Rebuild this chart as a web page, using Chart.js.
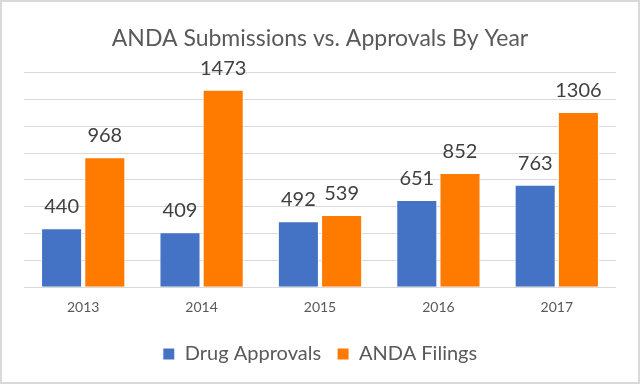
<!DOCTYPE html>
<html>
<head>
<meta charset="utf-8">
<script src="https://cdn.jsdelivr.net/npm/chart.js@4"></script>
<style>
  html, body { margin: 0; padding: 0; background: #fff; }
  #wrap { position: relative; width: 640px; height: 384px; box-sizing: border-box; border: 2px solid #d9d9d9; }
  canvas { display: block; }
</style>
</head>
<body>
<div id="wrap"><canvas id="c" width="636" height="380"></canvas></div>
<script>
const categories = ["2013", "2014", "2015", "2016", "2017"];
const drugApprovals = [440, 409, 492, 651, 763];
const andaFilings = [968, 1473, 539, 852, 1306];
const seriesNames = ["Drug Approvals", "ANDA Filings"];
const titleText = "ANDA Submissions vs. Approvals By Year";

const FONT = "Lato, 'Open Sans', sans-serif";

const valueLabels = {
  id: 'valueLabels',
  afterDatasetsDraw(chart) {
    const ctx = chart.ctx;
    ctx.save();
    ctx.font = "20px " + FONT;
    ctx.fillStyle = "#404040";
    ctx.textAlign = "center";
    ctx.textBaseline = "alphabetic";
    chart.data.datasets.forEach((ds, i) => {
      const meta = chart.getDatasetMeta(i);
      meta.data.forEach((el, j) => {
        ctx.fillText(String(ds.data[j]), el.x, el.y - 15);
      });
    });
    ctx.restore();
  }
};

new Chart(document.getElementById('c'), {
  type: 'bar',
  data: {
    labels: categories,
    datasets: [
      { label: seriesNames[0], data: drugApprovals, backgroundColor: '#4472C4', borderColor: '#ffffff', borderWidth: 1,
        categoryPercentage: 0.73, barPercentage: 0.95 },
      { label: seriesNames[1], data: andaFilings, backgroundColor: '#FF7B00', borderColor: '#ffffff', borderWidth: 1,
        categoryPercentage: 0.73, barPercentage: 0.95 }
    ]
  },
  options: {
    responsive: false,
    animation: false,
    devicePixelRatio: 1,
    layout: { padding: { left: 22, right: 22, top: 0, bottom: 8 } },
    plugins: {
      title: {
        display: true, text: titleText, color: '#595959',
        font: { family: FONT, size: 23, weight: 'normal' },
        padding: { top: 23, bottom: 20 }
      },
      legend: {
        position: 'bottom',
        labels: {
          color: '#595959', font: { family: FONT, size: 20 },
          boxWidth: 12, boxHeight: 12, padding: 16, useBorderRadius: false
        }
      },
      tooltip: { enabled: false }
    },
    scales: {
      x: {
        grid: { display: false },
        border: { display: false },
        ticks: { color: '#595959', font: { family: FONT, size: 14 }, padding: 4 },
        afterFit(scale) { scale.height += 8; }
      },
      y: {
        min: 0, max: 1600,
        ticks: { display: false, stepSize: 200 },
        grid: { color: '#d9d9d9', lineWidth: 1, drawTicks: false },
        border: { display: false }
      }
    }
  },
  plugins: [valueLabels]
});
</script>
</body>
</html>
